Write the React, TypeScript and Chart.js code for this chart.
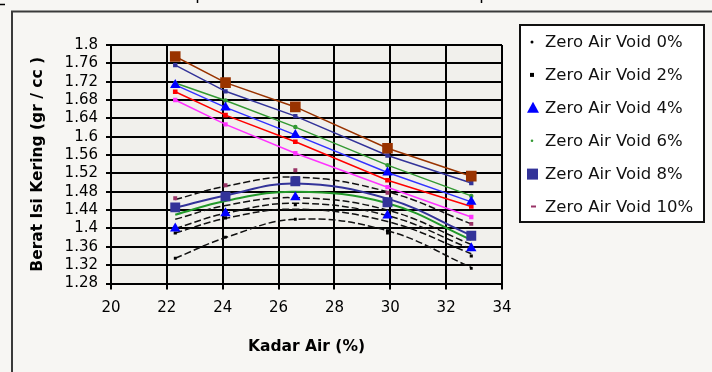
import React, { useEffect, useRef } from 'react';
import { Chart, registerables } from 'chart.js';

Chart.register(...registerables);

// ---- data ----
const xValues = [22.3, 24.1, 26.6, 29.9, 32.9];
const xMin = 20;
const xMax = 34;
const xStep = 2;
const yMin = 1.28;
const yMax = 1.8;
const yStep = 0.04;

// straight (zero-air-void style) lines, top to bottom
const zavBrown = [1.775, 1.718, 1.665, 1.575, 1.514];
const zavNavy = [1.756, 1.699, 1.645, 1.559, 1.499];
const zavGreen = [1.717, 1.679, 1.621, 1.538, 1.471];
const zavBlue = [1.713, 1.664, 1.604, 1.522, 1.458];
const zavRed = [1.698, 1.647, 1.589, 1.505, 1.448];
const zavMagenta = [1.680, 1.627, 1.564, 1.490, 1.425];

// compaction trend curves, top to bottom
const curve1 = [1.463, 1.492, 1.512, 1.480, 1.410];
const curve2 = [1.445, 1.472, 1.498, 1.465, 1.385];
const curve3 = [1.430, 1.460, 1.480, 1.455, 1.375];
const curve4 = [1.420, 1.450, 1.467, 1.440, 1.365];
const curve5 = [1.400, 1.433, 1.455, 1.428, 1.355];
const curve6 = [1.390, 1.422, 1.442, 1.415, 1.345];
const curve7 = [1.335, 1.380, 1.420, 1.395, 1.315];

// measured points
const maroonPts = [1.466, 1.494, 1.527, 1.478, 1.410];
const navyPts = [1.446, 1.470, 1.503, 1.457, 1.384];
const bluePts = [1.400, 1.433, 1.468, 1.428, 1.357];
const blackPts = [1.390, 1.423, 1.452, 1.395, 1.340];
const blackLowPts = [1.335, 1.381, 1.420, 1.390, 1.313];

const legendLabels = [
  'Zero Air Void 0%',
  'Zero Air Void 2%',
  'Zero Air Void 4%',
  'Zero Air Void 6%',
  'Zero Air Void 8%',
  'Zero Air Void 10%',
];
const legendMarkers = ['dot', 'smallSquare', 'triangle', 'greenDot', 'square', 'dash'];

const yTitle = 'Berat Isi Kering (gr / cc )';
const xTitle = 'Kadar Air (%)';

const pts = (arr: number[]) => xValues.map((x, i) => ({ x, y: arr[i] }));

const FONT = 'DejaVu Sans, Verdana, sans-serif';

const lineDs = (label: string, arr: number[], color: string, opts: any = {}) => ({
  label,
  data: pts(arr),
  showLine: true,
  borderColor: color,
  backgroundColor: color,
  borderWidth: 1.5,
  pointRadius: 0,
  tension: 0,
  ...opts,
});

const markerDs = (label: string, arr: number[], color: string, style: string, r: number) => ({
  label,
  data: pts(arr),
  showLine: false,
  pointStyle: style,
  pointRadius: r,
  pointBorderWidth: 0,
  pointBackgroundColor: color,
  pointBorderColor: color,
  borderColor: color,
  backgroundColor: color,
});

const framePlugin = {
  id: 'frame',
  beforeDraw(chart: any) {
    const { ctx, chartArea } = chart;
    ctx.save();
    ctx.fillStyle = '#f7f6f3';
    ctx.fillRect(0, 0, chart.width, chart.height);
    ctx.fillStyle = '#f1f0ec';
    ctx.fillRect(chartArea.left, chartArea.top, chartArea.right - chartArea.left, chartArea.bottom - chartArea.top);
    ctx.restore();
  },
  afterDraw(chart: any) {
    const { ctx } = chart;
    ctx.save();
    ctx.strokeStyle = '#3a3a3a';
    ctx.lineWidth = 2;
    ctx.beginPath();
    ctx.moveTo(12, 372);
    ctx.lineTo(12, 11.5);
    ctx.lineTo(712, 11.5);
    ctx.stroke();
    // small scan marks at top
    ctx.strokeStyle = '#000';
    ctx.lineWidth = 1.5;
    ctx.beginPath();
    ctx.moveTo(0, 4.5);
    ctx.lineTo(5, 4.5);
    ctx.moveTo(197.5, 0);
    ctx.lineTo(197.5, 3);
    ctx.moveTo(481.5, 0);
    ctx.lineTo(481.5, 3);
    ctx.stroke();

    // legend box
    const bx = 520, by = 25, bw = 184, bh = 197;
    ctx.fillStyle = '#ffffff';
    ctx.fillRect(bx, by, bw, bh);
    ctx.strokeStyle = '#111';
    ctx.lineWidth = 2;
    ctx.strokeRect(bx, by, bw, bh);
    ctx.font = `16.5px ${FONT}`;
    ctx.textBaseline = 'middle';
    ctx.textAlign = 'left';
    legendLabels.forEach((label, i) => {
      const y = 42 + i * 32.9;
      const mx = 532;
      const m = legendMarkers[i];
      if (m === 'dot') {
        ctx.fillStyle = '#000';
        ctx.beginPath();
        ctx.arc(mx, y, 1.5, 0, Math.PI * 2);
        ctx.fill();
      } else if (m === 'smallSquare') {
        ctx.fillStyle = '#000';
        ctx.fillRect(mx - 2, y - 2, 4, 4);
      } else if (m === 'triangle') {
        ctx.fillStyle = '#0000ff';
        ctx.beginPath();
        ctx.moveTo(mx + 1, y - 6);
        ctx.lineTo(mx + 7, y + 5);
        ctx.lineTo(mx - 5, y + 5);
        ctx.closePath();
        ctx.fill();
      } else if (m === 'greenDot') {
        ctx.fillStyle = '#339933';
        ctx.beginPath();
        ctx.arc(mx, y, 1.3, 0, Math.PI * 2);
        ctx.fill();
      } else if (m === 'square') {
        ctx.fillStyle = '#333399';
        ctx.fillRect(mx - 5, y - 5, 11, 11);
      } else if (m === 'dash') {
        ctx.strokeStyle = '#993366';
        ctx.lineWidth = 2;
        ctx.beginPath();
        ctx.moveTo(mx - 1, y);
        ctx.lineTo(mx + 4, y);
        ctx.stroke();
      }
      ctx.fillStyle = '#111';
      ctx.fillText(label, 545, y + 1);
    });
    ctx.restore();
  },
};

export default function App() {
  const ref = useRef<HTMLCanvasElement | null>(null);

  useEffect(() => {
    if (!ref.current) return;
    const dash = [7, 3];
    const chart = new Chart(ref.current, {
      type: 'scatter',
      data: {
        datasets: [
          markerDs('Bata 0', zavBrown, '#993300', 'rect', 7.5),
          markerDs('Segitiga ZAV', zavBlue, '#0000ff', 'triangle', 6),
          markerDs('Titik merah', maroonPts, '#993366', 'rect', 2.8),
          markerDs('Kotak biru', navyPts, '#333399', 'rect', 7),
          markerDs('Segitiga', bluePts, '#0000ff', 'triangle', 6),
          markerDs('Titik hitam', blackPts, '#000000', 'rect', 2.2),
          markerDs('Titik hitam bawah', blackLowPts, '#000000', 'rect', 2),
          lineDs('ZAV coklat', zavBrown, '#993300'),
          lineDs('ZAV biru tua', zavNavy, '#333399', { pointRadius: 2, pointStyle: 'rect' }),
          lineDs('ZAV hijau', zavGreen, '#339933', { pointRadius: 1.5 }),
          lineDs('ZAV biru', zavBlue, '#3333ff'),
          lineDs('ZAV merah', zavRed, '#ff0000', { pointRadius: 2.2, pointStyle: 'rect' }),
          lineDs('ZAV magenta', zavMagenta, '#ff33ff', { pointRadius: 2, pointStyle: 'rect' }),
          lineDs('Kurva 1', curve1, '#111111', { borderDash: dash, tension: 0.4 }),
          lineDs('Kurva 2', curve2, '#333399', { borderWidth: 2, tension: 0.4 }),
          lineDs('Kurva 3', curve3, '#22992a', { borderWidth: 2, tension: 0.4 }),
          lineDs('Kurva 4', curve4, '#111111', { borderDash: dash, tension: 0.4 }),
          lineDs('Kurva 5', curve5, '#111111', { borderDash: dash, tension: 0.4 }),
          lineDs('Kurva 6', curve6, '#111111', { borderDash: dash, tension: 0.4 }),
          lineDs('Kurva 7', curve7, '#111111', { borderDash: dash, tension: 0.4 }),
        ] as any,
      },
      options: {
        responsive: false,
        animation: false,
        devicePixelRatio: 1,
        layout: { padding: { left: 0, top: 45, right: 210, bottom: 0 } },
        plugins: {
          legend: { display: false },
          tooltip: { enabled: false },
        },
        scales: {
          x: {
            type: 'linear',
            min: xMin,
            max: xMax,
            afterFit: (s: any) => {
              s.height = 88.5;
            },
            ticks: {
              stepSize: xStep,
              autoSkip: false,
              color: '#000',
              padding: 10,
              font: { family: FONT, size: 15 },
            },
            grid: { color: '#000', lineWidth: 2, tickLength: 6 },
            border: { display: true, color: '#000', width: 2 },
            title: {
              display: true,
              text: xTitle,
              color: '#000',
              font: { family: FONT, size: 15.5, weight: 'bold' },
              padding: { top: 0, bottom: 16 },
            },
          },
          y: {
            type: 'linear',
            min: yMin,
            max: yMax,
            afterFit: (s: any) => {
              s.width = 111;
            },
            ticks: {
              stepSize: yStep,
              autoSkip: false,
              color: '#000',
              padding: 8,
              font: { family: FONT, size: 15, lineHeight: 1 },
              callback: (v: any) => String(Number(Number(v).toFixed(2))),
            },
            grid: { color: '#000', lineWidth: 2, tickLength: 5 },
            border: { display: true, color: '#000', width: 2 },
            title: {
              display: true,
              text: yTitle,
              color: '#000',
              font: { family: FONT, size: 15.5, weight: 'bold' },
              padding: { top: 29, bottom: 0 },
            },
          },
        },
      } as any,
      plugins: [framePlugin],
    });
    return () => chart.destroy();
  }, []);

  return (
    <div style={{ position: 'absolute', left: 0, top: 0, width: 712, height: 372 }}>
      <canvas ref={ref} width={712} height={372} />
    </div>
  );
}
